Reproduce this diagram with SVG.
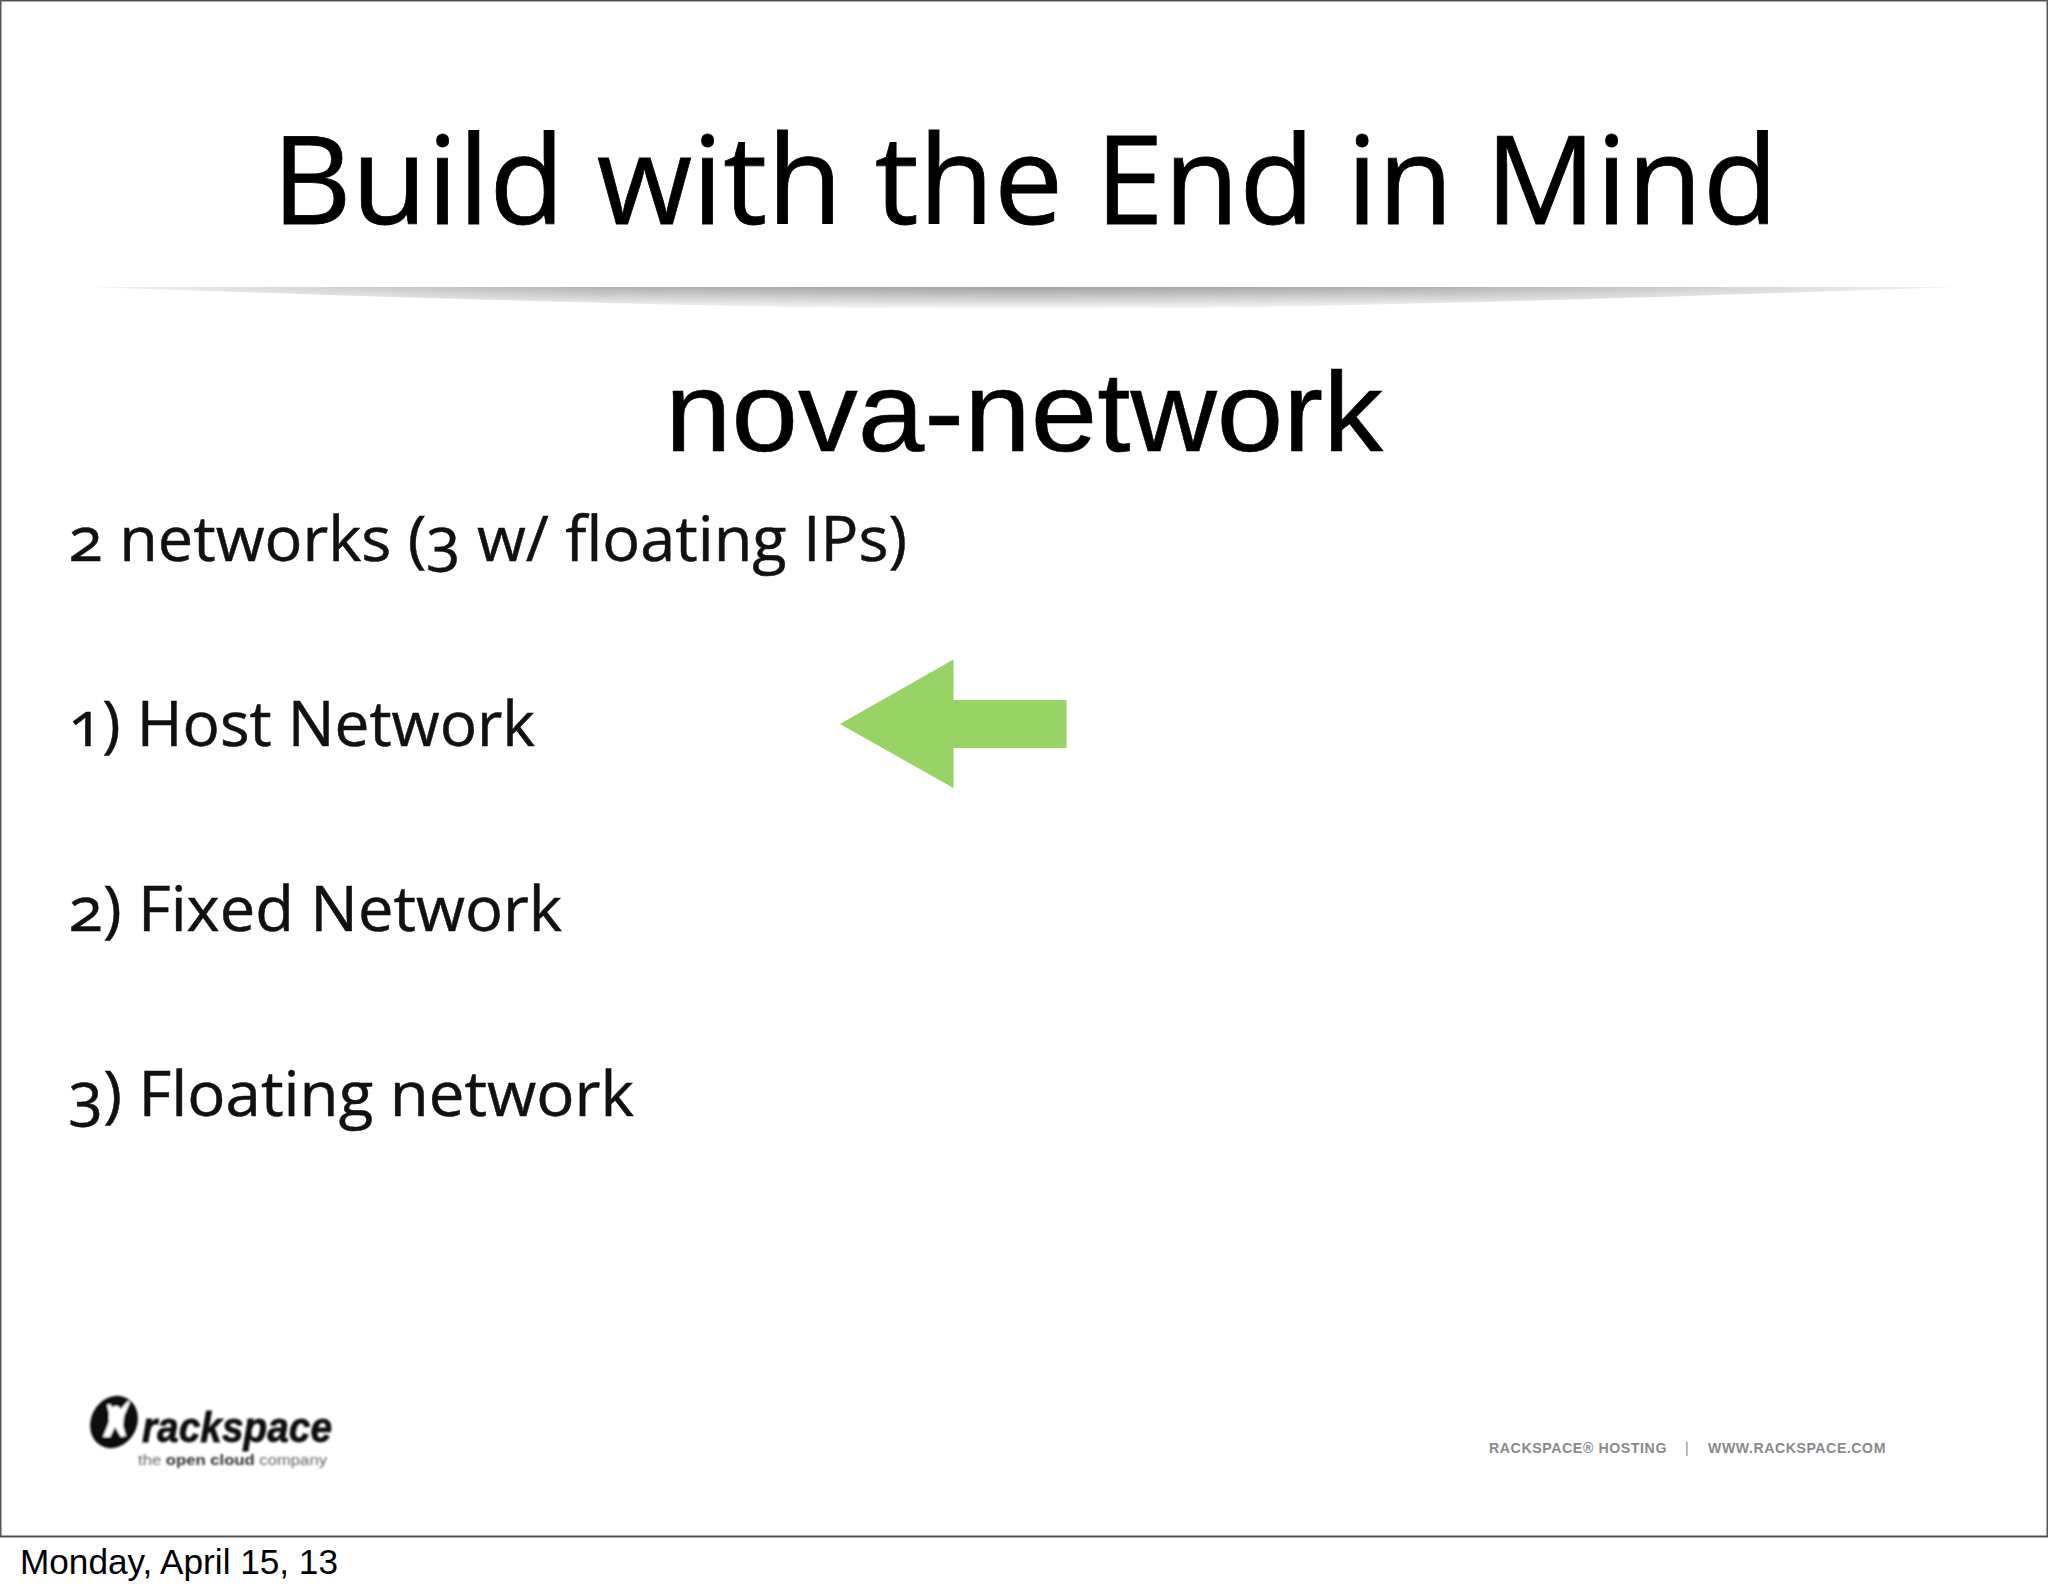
<svg xmlns="http://www.w3.org/2000/svg" width="2048" height="1593" viewBox="0 0 2048 1593">
<style>
.h{font-family:"Open Sans","Noto Sans",sans-serif;fill:#000;font-variant-numeric:oldstyle-nums}
.b{font-size:62px;fill:#111;stroke:#111;stroke-width:.5px}
.a{font-family:"Liberation Sans",Arial,sans-serif}
.f{font-size:15.3px;font-weight:700;fill:#8a8a8c;letter-spacing:.6px}
</style>
<defs>
<linearGradient id="hg" x1="88" x2="1960" y1="0" y2="0" gradientUnits="userSpaceOnUse"><stop offset="0" stop-color="#f4f4f4"/><stop offset=".14" stop-color="#cfcfcf"/><stop offset=".27" stop-color="#b2b2b2"/><stop offset=".5" stop-color="#a0a0a0"/><stop offset=".73" stop-color="#b2b2b2"/><stop offset=".86" stop-color="#cfcfcf"/><stop offset="1" stop-color="#f4f4f4"/></linearGradient>
<linearGradient id="vg" x1="0" x2="0" y1="287" y2="309" gradientUnits="userSpaceOnUse"><stop offset="0" stop-color="#fff"/><stop offset="1" stop-color="#111"/></linearGradient>
<mask id="m" maskUnits="userSpaceOnUse" x="0" y="280" width="2048" height="40"><rect x="0" y="280" width="2048" height="40" fill="url(#vg)"/></mask>
<filter id="bl" x="-5%" y="-10%" width="110%" height="120%"><feGaussianBlur stdDeviation="0.9"/></filter>
</defs>
<rect width="2048" height="1593" fill="#fff"/>
<rect x="0.5" y="0.5" width="2047" height="1536" fill="#fff" stroke="#555" stroke-width="2"/>
<text id="title" class="h" x="272" y="224" font-size="122" stroke="#000" stroke-width=".8" textLength="1506" lengthAdjust="spacingAndGlyphs">Build with the End in Mind</text>
<path id="rule" d="M88 287H1960C1600 299 1300 309 1024 309C750 309 450 299 88 287Z" fill="url(#hg)" mask="url(#m)"/>
<text id="subtitle" class="a" x="665" y="451" font-size="114" fill="#000" stroke="#000" stroke-width=".6" textLength="718" lengthAdjust="spacingAndGlyphs">nova-network</text>
<text id="l0" class="h b" x="68.5" y="560.5" textLength="838.5" lengthAdjust="spacingAndGlyphs">2 networks (3 w/ floating IPs)</text>
<text id="l1" class="h b" x="68.5" y="745.5" textLength="466.5" lengthAdjust="spacingAndGlyphs">1) Host Network</text>
<text id="l2" class="h b" x="68.5" y="930.5" textLength="493.5" lengthAdjust="spacingAndGlyphs">2) Fixed Network</text>
<text id="l3" class="h b" x="68.5" y="1115.5" textLength="565.5" lengthAdjust="spacingAndGlyphs">3) Floating network</text>
<polygon id="arrow" points="840,724 953.5,659.5 953.5,700 1066.5,700 1066.5,748 953.5,748 953.5,788" fill="#97d365"/>
<g id="logo" filter="url(#bl)">
<ellipse cx="114" cy="1422" rx="23" ry="27" transform="rotate(28 114 1422)" fill="#111"/>
<path d="M103 1437l6-15 0-9-2-8 3-1 4 6 6 0 8-9 2 1-6 14-1 10 3 10-5 1-6-10-5 10z" fill="#fff"/>
<circle cx="116" cy="1411" r="5" fill="#fff"/>
<text class="a" x="142" y="1442" font-size="43" font-weight="700" font-style="italic" fill="#111" stroke="#111" stroke-width=".8" textLength="190" lengthAdjust="spacingAndGlyphs">rackspace</text>
<text class="a" x="138" y="1465" font-size="14" fill="#666" textLength="189" lengthAdjust="spacingAndGlyphs">the <tspan font-weight="700" fill="#333">open cloud</tspan> company</text>
</g>
<text id="footer-left" class="a f" x="1489" y="1453" textLength="178" lengthAdjust="spacingAndGlyphs">RACKSPACE® HOSTING</text>
<text id="footer-sep" class="a" x="1685" y="1453" font-size="14" fill="#8a8a8c">|</text>
<text id="footer-right" class="a f" x="1708" y="1453" textLength="178" lengthAdjust="spacingAndGlyphs">WWW.RACKSPACE.COM</text>
<text id="date" class="a" x="20" y="1574" font-size="35" fill="#000" textLength="318" lengthAdjust="spacingAndGlyphs">Monday, April 15, 13</text>
</svg>
